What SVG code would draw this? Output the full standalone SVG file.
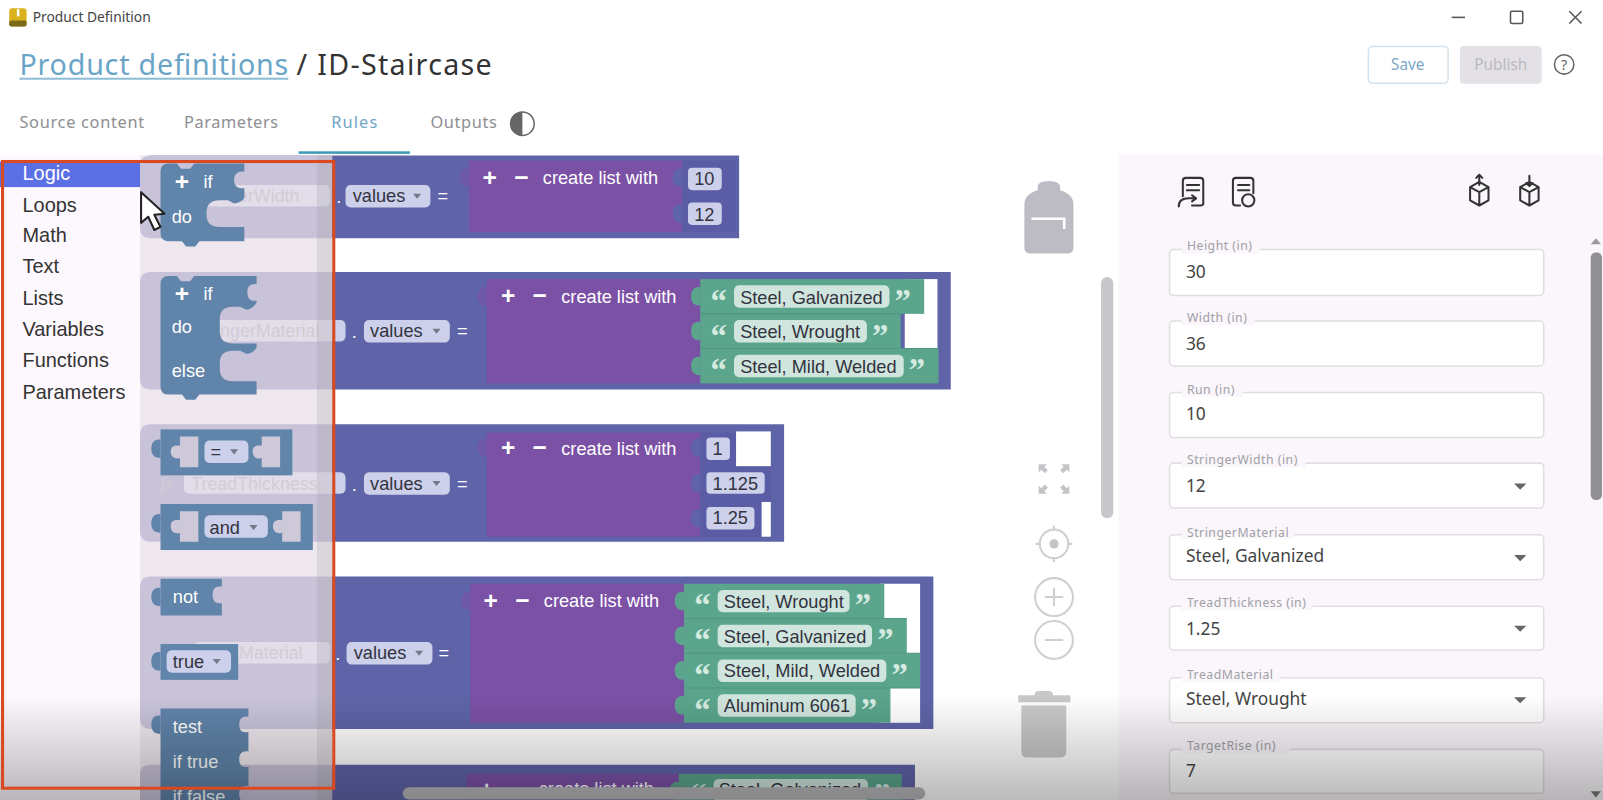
<svg xmlns="http://www.w3.org/2000/svg" width="1603" height="800" viewBox="0 0 1603 800">
<style>
.ui{font-family:"Noto Sans","Open Sans",sans-serif}
.b{font-family:"Liberation Sans",Arial,sans-serif;font-size:17.8px}
.w{fill:#fff}.d{fill:#333340}
.band{fill:#5f64a9}.pur{fill:#7b51a6}.ptab{fill:#6e58a8}.grn{fill:#5ba58c}.slotbg{fill:#5a5ca5}
.pill{fill:#ccd0ea}.gpill{fill:#d0e5dd}.gap{fill:#fff}
.q{font-family:"Liberation Serif",serif;font-size:32px;font-weight:700;fill:#d5ebe2}
.pm{font-family:"Liberation Sans",Arial,sans-serif;font-size:24px;font-weight:700;fill:#fff;text-anchor:middle}
.fblk{fill:#6084aa}
.cut{fill:#cdc9d8}
.field{fill:#fff;stroke:#e2dde2;stroke-width:1.5}
.lab{font-size:12px;fill:#a0a0a6;letter-spacing:.5px}
.val{font-size:17px;fill:#444}
.tab{font-size:16px;fill:#8e8e92}
.menu{font-family:"Liberation Sans",Arial,sans-serif;font-size:19.5px;fill:#333}
.ic{fill:none;stroke:#333;stroke-width:2;stroke-linejoin:round;stroke-linecap:round}
.gh{font-family:"Liberation Sans",Arial,sans-serif;font-size:17.5px;fill:#8a8a98}
.ctl{fill:none;stroke:#cfcfd3;stroke-width:2}
</style>
<defs>
<path id="tabshape" d="M0,-9 c-6,-1 -9,3 -9,9 c0,6 3,9 9,9 Z"/>
<path id="dd" d="M-4,-2.500 H4 L0,2.500 Z" fill="#77778a"/>
<path id="arrow" d="M-6,-3 H6 L0,3 Z" fill="#666"/>
<path id="slot" d="M27,0 V30 H9 V21 c-6,2 -9,-2 -9,-6 c0,-5 3,-7 9,-6 V0 Z" class="cut"/>
<linearGradient id="fade" x1="0" y1="0" x2="0" y2="1"><stop offset="0" stop-color="#000" stop-opacity="0"/><stop offset="1" stop-color="#000" stop-opacity=".27"/></linearGradient>
</defs>
<rect width="1603" height="800" fill="#fff"/>
<g transform="scale(1.02232)">

<g id="right-panel">
<rect x="1094" y="151" width="474" height="640" fill="#faf6fb"/>
<g id="panel-icons">
<path class="ic" d="M1157,192 V177 q0,-3 3,-3 h14 q3,0 3,3 v22 q0,2 -3,2 h-8 M1161,181 h12 M1161,186 h12 M1153,202 q0,-8 10,-8 h6 m-3,-3 l4,3 l-4,3"/>
<path class="ic" d="M1206,198 V177 q0,-3 3,-3 h14 q3,0 3,3 v12 M1206,198 q0,3 3,3 h4 M1211,181 h11 M1211,186 h11"/>
<circle class="ic" cx="1221" cy="196" r="6"/>
<path class="ic" d="M1447,178 l9,5 v13 l-9,5 l-9,-5 v-13 z M1438,183 l9,5 l9,-5 M1447,188 v13 M1447,171 v10 m-3,-7 l3,-3 l3,3"/>
<path class="ic" d="M1496,178 l9,5 v13 l-9,5 l-9,-5 v-13 z M1487,183 l9,5 l9,-5 M1496,188 v13 M1496,172 v10 m-3,-3 l3,3 l3,-3"/>
</g>
<g id="field-height"><rect class="field" x="1144" y="244" width="366" height="45" rx="4"/><rect x="1156" y="240" width="76" height="8" fill="#faf6fb"/><text class="ui lab" x="1161" y="245">Height (in)</text><text class="ui val" x="1160" y="272">30</text></g>
<g id="field-width"><rect class="field" x="1144" y="314" width="366" height="44" rx="4"/><rect x="1156" y="310" width="71" height="8" fill="#faf6fb"/><text class="ui lab" x="1161" y="315">Width (in)</text><text class="ui val" x="1160" y="342">36</text></g>
<g id="field-run"><rect class="field" x="1144" y="384" width="366" height="44" rx="4"/><rect x="1156" y="380" width="60" height="8" fill="#faf6fb"/><text class="ui lab" x="1161" y="385">Run (in)</text><text class="ui val" x="1160" y="411">10</text></g>
<g id="field-stringerwidth"><rect class="field" x="1144" y="453" width="366" height="44" rx="4"/><rect x="1156" y="449" width="121" height="8" fill="#faf6fb"/><text class="ui lab" x="1161" y="454">StringerWidth (in)</text><text class="ui val" x="1160" y="481">12</text><use href="#arrow" x="1487" y="476"/></g>
<g id="field-stringermaterial"><rect class="field" x="1144" y="523" width="366" height="44" rx="4"/><rect x="1156" y="519" width="110" height="8" fill="#faf6fb"/><text class="ui lab" x="1161" y="525">StringerMaterial</text><text class="ui val" x="1160" y="550">Steel, Galvanized</text><use href="#arrow" x="1487" y="546"/></g>
<g id="field-treadthickness"><rect class="field" x="1144" y="593" width="366" height="43" rx="4"/><rect x="1156" y="589" width="128" height="8" fill="#faf6fb"/><text class="ui lab" x="1161" y="594">TreadThickness (in)</text><text class="ui val" x="1160" y="621">1.25</text><use href="#arrow" x="1487" y="615"/></g>
<g id="field-treadmaterial"><rect class="field" x="1144" y="663" width="366" height="44" rx="4"/><rect x="1156" y="659" width="97" height="8" fill="#faf6fb"/><text class="ui lab" x="1161" y="664">TreadMaterial</text><text class="ui val" x="1160" y="690">Steel, Wrought</text><use href="#arrow" x="1487" y="685"/></g>
<g id="field-targetrise"><rect class="field" x="1144" y="733" width="366" height="43" rx="4"/><rect x="1156" y="729" width="105" height="8" fill="#faf6fb"/><text class="ui lab" x="1161" y="734">TargetRise (in)</text><text class="ui val" x="1160" y="760">7</text></g>
<g id="panel-scroll"><path d="M1556,239 L1561,233 L1566,239 Z" fill="#999"/><rect x="1556" y="247" width="11" height="242" rx="5" fill="#8f8f94"/><path d="M1556,774 L1561,780 L1566,774 Z" fill="#777"/></g>
</g>

<g id="title-bar">
<path d="M9,11 q0,-3 3,-3 h11 q3,0 3,3 v12 q0,3 -3,3 h-11 q-3,0 -3,-3 z" fill="#d9b21d"/>
<rect x="9" y="20" width="17" height="6" rx="2" fill="#7a6a1a"/>
<rect x="16.500" y="9" width="2.500" height="7" fill="#fff"/>
<text class="ui" x="32" y="22" font-size="13.500" fill="#444">Product Definition</text>
<path d="M1420,17 H1433" stroke="#555" stroke-width="1.500"/>
<rect x="1477.500" y="11" width="12" height="12" rx="1.500" fill="none" stroke="#555" stroke-width="1.500"/>
<path d="M1535,11 L1547,23 M1547,11 L1535,23" stroke="#555" stroke-width="1.500"/>
</g>
<g id="heading">
<text class="ui" x="19" y="73" font-size="28" fill="#6aa5c8" textLength="263" lengthAdjust="spacing">Product definitions</text>
<rect x="19" y="76" width="263" height="2" fill="#8fbdd6"/>
<text class="ui" x="290" y="73" font-size="28" fill="#333" textLength="191" lengthAdjust="spacing">/ ID-Staircase</text>
</g>
<g id="tabs">
<text class="ui tab" x="19" y="125" textLength="122">Source content</text>
<text class="ui tab" x="180" y="125" textLength="92">Parameters</text>
<text class="ui tab" x="324" y="125" style="fill:#6fa6c6" textLength="45">Rules</text>
<text class="ui tab" x="421" y="125" textLength="65">Outputs</text>
<circle cx="511" cy="121" r="11.500" fill="#fff" stroke="#666" stroke-width="1.500"/>
<path d="M511,109.500 a11.500,11.500 0 0 0 0,23 z" fill="#666"/>
<rect x="292" y="148" width="109" height="2.500" fill="#3f9ab8"/>
</g>
<g id="buttons">
<rect x="1338.500" y="45.500" width="78" height="36" rx="4" fill="#fff" stroke="#d3e2ec" stroke-width="1.500"/>
<text class="ui" x="1377" y="68" font-size="15" fill="#7aa9c8" text-anchor="middle">Save</text>
<rect x="1428" y="45" width="80" height="37" rx="4" fill="#e3e0e6"/>
<text class="ui" x="1468" y="68" font-size="15" fill="#bbbac0" text-anchor="middle">Publish</text>
<circle cx="1530" cy="63" r="9.500" fill="none" stroke="#666" stroke-width="1.500"/>
<text class="ui" x="1530" y="68" font-size="14" fill="#666" text-anchor="middle">?</text>
</g>

<g id="block-row-1">
<path class="band" d="M147,152 H723 V233 H147 q-10,0 -10,-10 V162 q0,-10 10,-10 Z"/>
<rect class="pill" x="175" y="181" width="148" height="21" rx="5"/>
<text class="gh" x="293" y="198" text-anchor="end">erWidth</text>
<text class="b w" x="329" y="199">.</text>
<rect class="pill" x="338" y="181" width="83" height="22" rx="5"/>
<text class="b d" x="345" y="198">values</text><use href="#dd" x="408" y="192"/>
<text class="b w" x="428" y="198">=</text>
<use href="#tabshape" x="459" y="174" class="ptab"/>
<rect class="pur" x="459" y="157" width="208" height="70"/>
<rect class="slotbg" x="667" y="157" width="53" height="70"/>
<use href="#tabshape" x="667" y="174" class="band"/><use href="#tabshape" x="667" y="209" class="band"/>
<text class="pm" x="479" y="182">+</text><text class="pm" x="510" y="182">−</text>
<text class="b w" x="531" y="180">create list with</text>
<rect class="pill" x="673" y="164" width="33" height="22" rx="4"/><text class="b d" x="679" y="181">10</text>
<rect class="pill" x="673" y="198" width="33" height="22" rx="4"/><text class="b d" x="679" y="216">12</text>
</g>

<g id="block-row-2">
<path class="band" d="M147,266 H930 V381 H147 q-10,0 -10,-10 V276 q0,-10 10,-10 Z"/>
<rect class="pill" x="180" y="313" width="158" height="21" rx="5"/>
<text class="gh" x="189" y="330">StringerMaterial</text>
<text class="b w" x="344" y="331">.</text>
<rect class="pill" x="356" y="313" width="84" height="22" rx="5"/>
<text class="b d" x="362" y="330">values</text><use href="#dd" x="427" y="324"/>
<text class="b w" x="447" y="330">=</text>
<use href="#tabshape" x="476" y="290" class="ptab"/>
<rect class="pur" x="476" y="273" width="209" height="102"/>
<rect class="gap" x="885" y="273" width="32" height="68"/>
<rect class="grn" x="685" y="273" width="219" height="34"/><rect class="grn" x="685" y="307" width="196" height="34"/><rect class="grn" x="685" y="341" width="233" height="34"/>
<use href="#tabshape" x="685" y="290" class="grn"/><use href="#tabshape" x="685" y="324" class="grn"/><use href="#tabshape" x="685" y="358" class="grn"/>
<path d="M685,307 H881 M685,341 H918" stroke="#4f967e" stroke-width="1"/>
<text class="pm" x="497" y="297">+</text><text class="pm" x="528" y="297">−</text>
<text class="b w" x="549" y="296">create list with</text>
<rect class="gpill" x="718" y="279" width="152" height="22" rx="5"/><text class="q" x="695" y="305">“</text><text class="b d" x="724" y="297">Steel, Galvanized</text><text class="q" x="875" y="305">”</text>
<rect class="gpill" x="718" y="313" width="130" height="22" rx="5"/><text class="q" x="695" y="339">“</text><text class="b d" x="724" y="331">Steel, Wrought</text><text class="q" x="853" y="339">”</text>
<rect class="gpill" x="718" y="347" width="166" height="22" rx="5"/><text class="q" x="695" y="373">“</text><text class="b d" x="724" y="365">Steel, Mild, Welded</text><text class="q" x="889" y="373">”</text>
</g>

<g id="block-row-3">
<path class="band" d="M147,415 H767 V530 H147 q-10,0 -10,-10 V425 q0,-10 10,-10 Z"/>
<text x="157" y="479" font-family="Liberation Serif,serif" font-style="italic" font-size="17.500" fill="#8a8a98">fx</text>
<rect class="pill" x="180" y="462" width="158" height="21" rx="5"/>
<text class="gh" x="187" y="479">TreadThickness</text>
<text class="b w" x="344" y="480">.</text>
<rect class="pill" x="356" y="462" width="84" height="22" rx="5"/>
<text class="b d" x="362" y="479">values</text><use href="#dd" x="427" y="473"/>
<text class="b w" x="447" y="479">=</text>
<use href="#tabshape" x="476" y="438" class="ptab"/>
<rect class="pur" x="476" y="423" width="209" height="102"/>
<rect class="slotbg" x="685" y="423" width="69" height="102"/>
<rect class="gap" x="720" y="422" width="34" height="34"/><rect class="gap" x="745" y="491" width="9" height="34"/>
<use href="#tabshape" x="685" y="438" class="band"/><use href="#tabshape" x="685" y="473" class="band"/><use href="#tabshape" x="685" y="507" class="band"/>
<text class="pm" x="497" y="446">+</text><text class="pm" x="528" y="446">−</text>
<text class="b w" x="549" y="445">create list with</text>
<rect class="pill" x="691" y="428" width="23" height="22" rx="4"/><text class="b d" x="697" y="445">1</text>
<rect class="pill" x="691" y="462" width="57" height="21" rx="4"/><text class="b d" x="697" y="479">1.125</text>
<rect class="pill" x="691" y="496" width="47" height="22" rx="4"/><text class="b d" x="697" y="513">1.25</text>
</g>

<g id="block-row-4">
<path class="band" d="M147,564 H913 V713 H147 q-10,0 -10,-10 V574 q0,-10 10,-10 Z"/>
<rect class="pill" x="190" y="628" width="133" height="21" rx="5"/>
<text class="gh" x="296" y="645" text-anchor="end">Material</text>
<text class="b w" x="328" y="646">.</text>
<rect class="pill" x="339" y="628" width="84" height="22" rx="5"/>
<text class="b d" x="346" y="645">values</text><use href="#dd" x="410" y="639"/>
<text class="b w" x="429" y="645">=</text>
<use href="#tabshape" x="460" y="588" class="ptab"/>
<rect class="pur" x="460" y="571" width="209" height="136"/>
<rect class="gap" x="860" y="571" width="40" height="136"/>
<rect class="grn" x="669" y="571" width="196" height="34"/><rect class="grn" x="669" y="605" width="218" height="34"/><rect class="grn" x="669" y="639" width="231" height="34"/><rect class="grn" x="669" y="673" width="202" height="34"/>
<use href="#tabshape" x="669" y="588" class="grn"/><use href="#tabshape" x="669" y="622" class="grn"/><use href="#tabshape" x="669" y="656" class="grn"/><use href="#tabshape" x="669" y="690" class="grn"/>
<path d="M669,605 H887 M669,639 H900 M669,673 H900" stroke="#4f967e" stroke-width="1"/>
<text class="pm" x="480" y="596">+</text><text class="pm" x="511" y="596">−</text>
<text class="b w" x="532" y="594">create list with</text>
<rect class="gpill" x="702" y="577" width="129" height="22" rx="5"/><text class="q" x="679" y="603">“</text><text class="b d" x="708" y="594.500">Steel, Wrought</text><text class="q" x="836" y="603">”</text>
<rect class="gpill" x="702" y="611" width="151" height="22" rx="5"/><text class="q" x="679" y="637">“</text><text class="b d" x="708" y="628.500">Steel, Galvanized</text><text class="q" x="858" y="637">”</text>
<rect class="gpill" x="702" y="645" width="165" height="22" rx="5"/><text class="q" x="679" y="671">“</text><text class="b d" x="708" y="662.500">Steel, Mild, Welded</text><text class="q" x="872" y="671">”</text>
<rect class="gpill" x="702" y="679" width="135" height="22" rx="5"/><text class="q" x="679" y="705">“</text><text class="b d" x="708" y="696.500">Aluminum 6061</text><text class="q" x="842" y="705">”</text>
</g>

<g id="block-row-5">
<path class="band" d="M147,748 H895 V800 H137 V758 q0,-10 10,-10 Z"/>
<rect class="pur" x="456" y="757" width="208" height="40"/>
<rect class="grn" x="664" y="757" width="218" height="40"/>
<use href="#tabshape" x="664" y="774" class="grn"/>
<text class="pm" x="476" y="781">+</text><text class="pm" x="507" y="781">−</text>
<text class="b w" x="527" y="778">create list with</text>
<rect class="gpill" x="698" y="762" width="151" height="22" rx="5"/><text class="q" x="675" y="788">“</text><text class="b d" x="703" y="779">Steel, Galvanized</text><text class="q" x="855" y="788">”</text>
</g>

<g id="toolbox">
<rect x="0" y="152" width="137" height="640" fill="#fdf8fd"/>
<rect x="0" y="158" width="137" height="25" fill="#5c70e6"/>
<text class="menu" x="22" y="176" style="fill:#fff">Logic</text>
<text class="menu" x="22" y="207">Loops</text>
<text class="menu" x="22" y="237">Math</text>
<text class="menu" x="22" y="267">Text</text>
<text class="menu" x="22" y="298">Lists</text>
<text class="menu" x="22" y="329">Variables</text>
<text class="menu" x="22" y="359">Functions</text>
<text class="menu" x="22" y="390">Parameters</text>
</g>
<g id="flyout">
<rect x="137" y="152" width="188" height="640" fill="#e9e1e9" fill-opacity=".76"/>
<rect x="310" y="152" width="15" height="640" fill="#8f8f98" fill-opacity=".2"/>
</g>

<g id="flyout-if-do">
<path class="fblk" d="M157,168 q0,-8 8,-8 h8 l4,5 h9 l4,-5 H239 V168 c-6,-1 -10,2 -10,8 c0,6 4,9 10,8 V194 q-4,5 -10,5 l-6,-3 h-8 q-13,0 -13,12 v2 q0,12 13,12 H239 V236 H195 l-4,5 h-9 l-4,-5 H165 q-8,0 -8,-8 Z"/>
<text class="pm" x="178" y="186">+</text><text class="b w" x="199" y="184">if</text><text class="b w" x="168" y="218">do</text>
</g>
<g id="flyout-if-do-else">
<path class="fblk" d="M157,278 q0,-8 8,-8 h8 l4,5 h9 l4,-5 H251 V278 c-6,-1 -9,2 -9,8 c0,6 3,9 9,8 V296 q-4,7 -10,7 l-6,-3 h-7 q-13,0 -13,12 v12 q0,12 13,12 H251 V340 q-4,6 -10,6 l-6,-3 h-7 q-13,0 -13,12 v6 q0,12 13,12 H251 V386 H195 l-4,5 h-9 l-4,-5 H165 q-8,0 -8,-8 Z"/>
<text class="pm" x="178" y="295">+</text><text class="b w" x="199" y="293">if</text><text class="b w" x="168" y="326">do</text><text class="b w" x="168" y="369">else</text>
</g>
<g id="flyout-compare">
<use href="#tabshape" x="157" y="439" class="fblk"/>
<rect class="fblk" x="157" y="420" width="129" height="45"/>
<use href="#slot" x="167" y="427"/><use href="#slot" x="247" y="427"/>
<rect x="200" y="431" width="43" height="22" rx="5" fill="#ccd0ea"/>
<text class="b d" x="206" y="448">=</text><use href="#dd" x="229" y="442"/>
</g>
<g id="flyout-and">
<use href="#tabshape" x="157" y="512" class="fblk"/>
<rect class="fblk" x="157" y="493" width="149" height="45"/>
<use href="#slot" x="167" y="500"/><use href="#slot" x="267" y="500"/>
<rect x="200" y="504" width="62" height="22" rx="5" fill="#ccd0ea"/>
<text class="b d" x="205" y="522">and</text><use href="#dd" x="248" y="516"/>
</g>
<g id="flyout-not">
<use href="#tabshape" x="157" y="584" class="fblk"/>
<path class="fblk" d="M157,566 H217 V574 c-6,-1 -9,2 -9,8 c0,6 3,9 9,8 V602 H157 Z"/>
<text class="b w" x="169" y="590">not</text>
</g>
<g id="flyout-true">
<use href="#tabshape" x="157" y="647" class="fblk"/>
<rect class="fblk" x="157" y="630" width="76" height="35"/>
<rect x="163" y="636" width="63" height="22" rx="5" fill="#ccd0ea"/>
<text class="b d" x="169" y="653">true</text><use href="#dd" x="212" y="647"/>
</g>
<g id="flyout-ternary">
<use href="#tabshape" x="157" y="709" class="fblk"/>
<path class="fblk" d="M157,693 H243 V701 c-6,-1 -9,2 -9,8 c0,6 3,8 9,7 V735 c-6,-1 -9,2 -9,8 c0,6 3,8 9,7 V769 c-6,-1 -9,2 -9,8 c0,6 3,8 9,7 V800 H157 Z"/>
<text class="b w" x="169" y="717">test</text><text class="b w" x="169" y="751">if true</text><text class="b w" x="169" y="785">if false</text>
</g>

<path id="cursor" d="M138,188 V218 L145,212 L151,225 L157,222 L151,210 L161,209 Z" fill="#fff" stroke="#222" stroke-width="2" stroke-linejoin="round"/>

<g id="workspace-controls">
<path d="M1002,200 q0,-10 13,-14 v-3 q0,-6 11,-6 t11,6 v3 q13,4 13,14 V242 q0,6 -6,6 H1008 q-6,0 -6,-6 Z" fill="#bdbcc4"/>
<path d="M1009,214 H1041 V224" fill="none" stroke="#fff" stroke-width="2.500"/>
<rect x="1077" y="271" width="12" height="236" rx="6" fill="#c8c8cc"/>
<path d="M1016,454 h8 l-2.500,2.500 l3.500,3.500 l-3,3 l-3.500,-3.500 l-2.500,2.500 z M1046,454 h-8 l2.500,2.500 l-3.500,3.500 l3,3 l3.500,-3.500 l2.500,2.500 z M1016,483 h8 l-2.500,-2.500 l3.500,-3.500 l-3,-3 l-3.500,3.500 l-2.500,-2.500 z M1046,483 h-8 l2.500,-2.500 l-3.500,-3.500 l3,-3 l3.500,3.500 l2.500,-2.500 z" fill="#c4c4c8"/>
<circle class="ctl" cx="1031" cy="532" r="14"/><circle cx="1031" cy="532" r="4.500" fill="#c4c4c8"/>
<path class="ctl" d="M1031,514 v5 M1031,545 v5 M1013,532 h5 M1044,532 h5"/>
<circle class="ctl" cx="1031" cy="584" r="18.500"/><path class="ctl" d="M1022,584 h18 M1031,575 v18"/>
<circle class="ctl" cx="1031" cy="626" r="18.500"/><path class="ctl" d="M1022,626 h18"/>
<path d="M1012,680 q0,-4 4,-4 h10 q4,0 4,4 h17 v7 H996 v-7 Z" fill="#c8c8c8"/>
<path d="M999,690 H1043 V735 q0,6 -6,6 H1005 q-6,0 -6,-6 Z" fill="#c8c8c8"/>
</g>
<rect id="h-scroll" x="394" y="770" width="511" height="12" rx="6" fill="#b8b8bc"/>
<rect id="fade-overlay" x="0" y="680" width="1568" height="103" fill="url(#fade)"/>
<rect id="highlight-frame" x="2.500" y="158" width="324" height="613" fill="none" stroke="#d94a22" stroke-width="3"/>
</g>
</svg>
